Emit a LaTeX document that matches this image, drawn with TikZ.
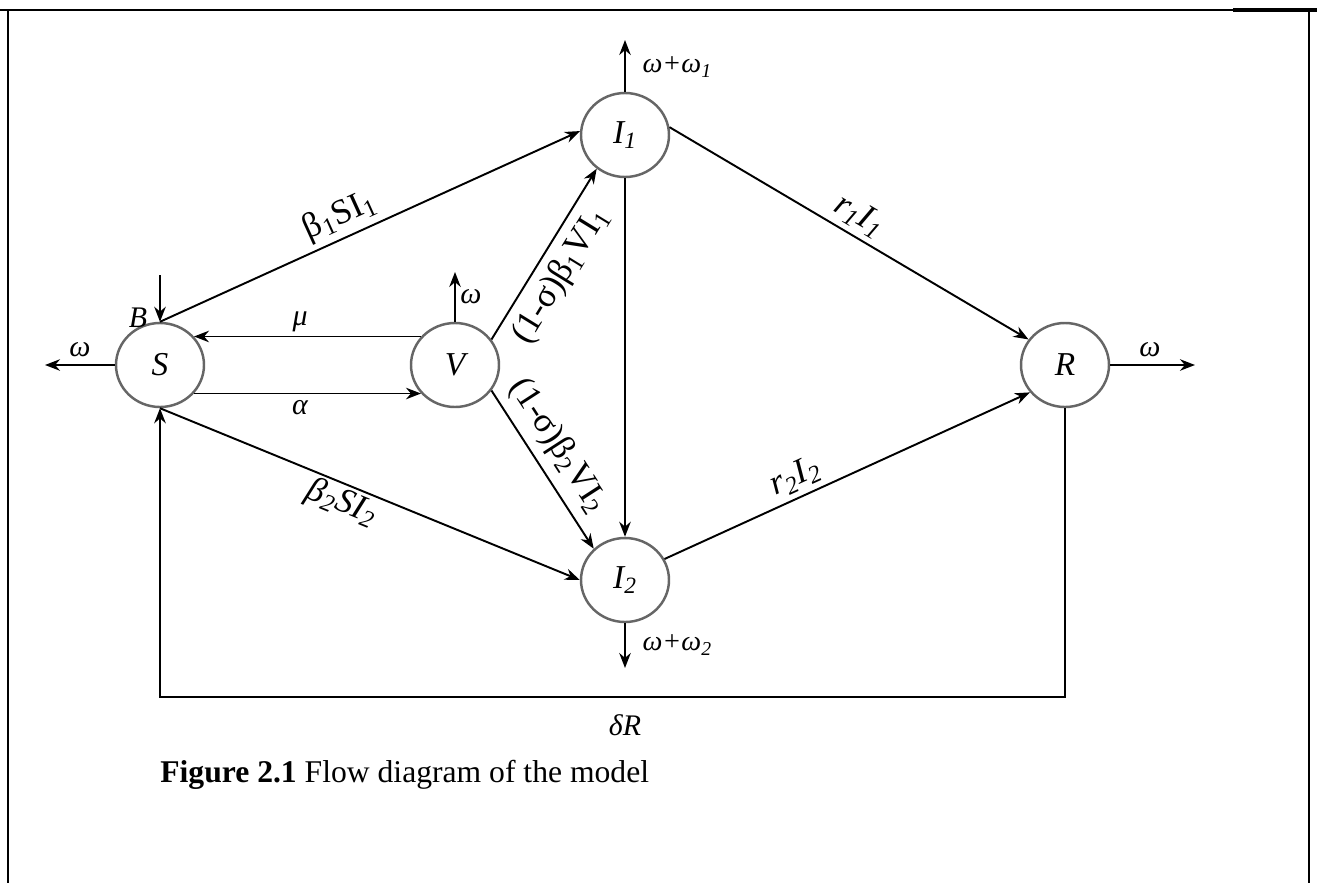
\documentclass[tikz,border=0pt]{standalone}
\usepackage{fontspec}
\setmainfont{Liberation Serif}
\usetikzlibrary{arrows.meta,shapes.geometric}

\newcommand{\lblsize}{\fontsize{17}{20}\selectfont}
\newcommand{\edgesize}{\fontsize{20}{24}\selectfont}

\begin{document}
\begin{tikzpicture}[
  comp/.style={ellipse, draw=black!60, line width=1.4pt, minimum width=17.6mm, minimum height=16.8mm, inner sep=0pt, font=\fontsize{19}{22}\selectfont\itshape},
  lbl/.style={font=\lblsize\itshape, inner sep=3pt},
  elbl/.style={font=\edgesize\itshape, inner sep=3pt},
  elblup/.style={font=\edgesize, inner sep=3pt},
  arr/.style={-{Stealth[length=3mm, width=2.3mm]}, line width=1.1pt},
  frm/.style={line width=0.9pt}
]
\useasboundingbox (0,0) rectangle (26.34,-17.66);
% page frame
\draw[frm] (0,-0.2) -- (26.34,-0.2);
\draw[line width=2.2pt] (24.66,-0.2) -- (26.34,-0.2);
\draw[frm] (0.16,-0.2) -- (0.16,-17.66);
\draw[frm] (26.18,-0.2) -- (26.18,-17.66);

% compartments
\node[comp] (S) at (3.2,-7.3) {S};
\node[comp] (V) at (9.1,-7.3) {V};
\node[comp] (I1) at (12.5,-2.7) {I\textsubscript{1}};
\node[comp] (I2) at (12.5,-11.6) {I\textsubscript{2}};
\node[comp] (R) at (21.3,-7.3) {R};

% free ends
\coordinate (Sout) at (0.9,-7.3);
\coordinate (Bin) at (3.2,-5.5);
\coordinate (Vout) at (9.1,-5.44);
\coordinate (I1out) at (12.5,-0.8);
\coordinate (I2out) at (12.5,-13.36);
\coordinate (Rout) at (23.9,-7.3);
\coordinate (loop) at (3.2,-13.94);

% flows
\draw[arr] (Bin) -- (S.north);
\draw[arr] (S.west) -- (Sout);
\draw[arr] (V.140) -- (S.40);
\draw[arr] (S.-40) -- (V.-140);
\draw[arr] (V.north) -- (Vout);
\draw[arr] (S.north) -- node[elblup, sloped, above, pos=0.45] {β\textsubscript{1}SI\textsubscript{1}} (I1.175);
\draw[arr] (S.south) -- node[elbl, sloped, below, pos=0.45, inner sep=1pt] {β\textsubscript{2}SI\textsubscript{2}} (I2.west);
\draw[arr] (V.35) -- node[elblup, sloped, below, pos=0.45, inner sep=5pt] {(1-σ)β\textsubscript{1}VI\textsubscript{1}} (I1.230);
\draw[arr] (V.-35) -- node[elblup, sloped, above, pos=0.44, inner sep=5pt] {(1-σ)β\textsubscript{2}VI\textsubscript{2}} (I2.135);
\draw[arr] (I1.south) -- (I2.north);
\draw[arr] (I1.10) -- node[elbl, sloped, above, pos=0.5] {r\textsubscript{1}I\textsubscript{1}} (R.145);
\draw[arr] (I2.28) -- node[elbl, sloped, above, pos=0.38] {r\textsubscript{2}I\textsubscript{2}} (R.-142);
\draw[arr] (I1.north) -- (I1out);
\draw[arr] (I2.south) -- (I2out);
\draw[arr] (R.east) -- (Rout);
\draw[arr, line width=1.5pt] (R.south) |- (loop) -- (S.south);

% rate labels
\node[lbl] (wS) at (1.6,-7.0) {ω};
\node[lbl] (bB) at (2.76,-6.36) {B};
\node[lbl] (mu) at (6.0,-6.44) {μ};
\node[lbl] (al) at (6.0,-8.16) {α};
\node[lbl] (wV) at (9.42,-5.94) {ω};
\node[lbl, font=\fontsize{16}{19}\selectfont\itshape, anchor=west] (wI1) at (12.74,-1.34) {ω+ω\textsubscript{1}};
\node[lbl, font=\fontsize{16}{19}\selectfont\itshape, anchor=west] (wI2) at (12.74,-12.9) {ω+ω\textsubscript{2}};
\node[lbl] (wR) at (23.0,-7.0) {ω};
\node[lbl] (dR) at (12.5,-14.5) {δR};

% caption
\node[font=\fontsize{18}{22}\selectfont, anchor=west, inner sep=0pt] (cap) at (3.2,-15.5) {\textbf{Figure 2.1} Flow diagram of the model};
\end{tikzpicture}
\end{document}
